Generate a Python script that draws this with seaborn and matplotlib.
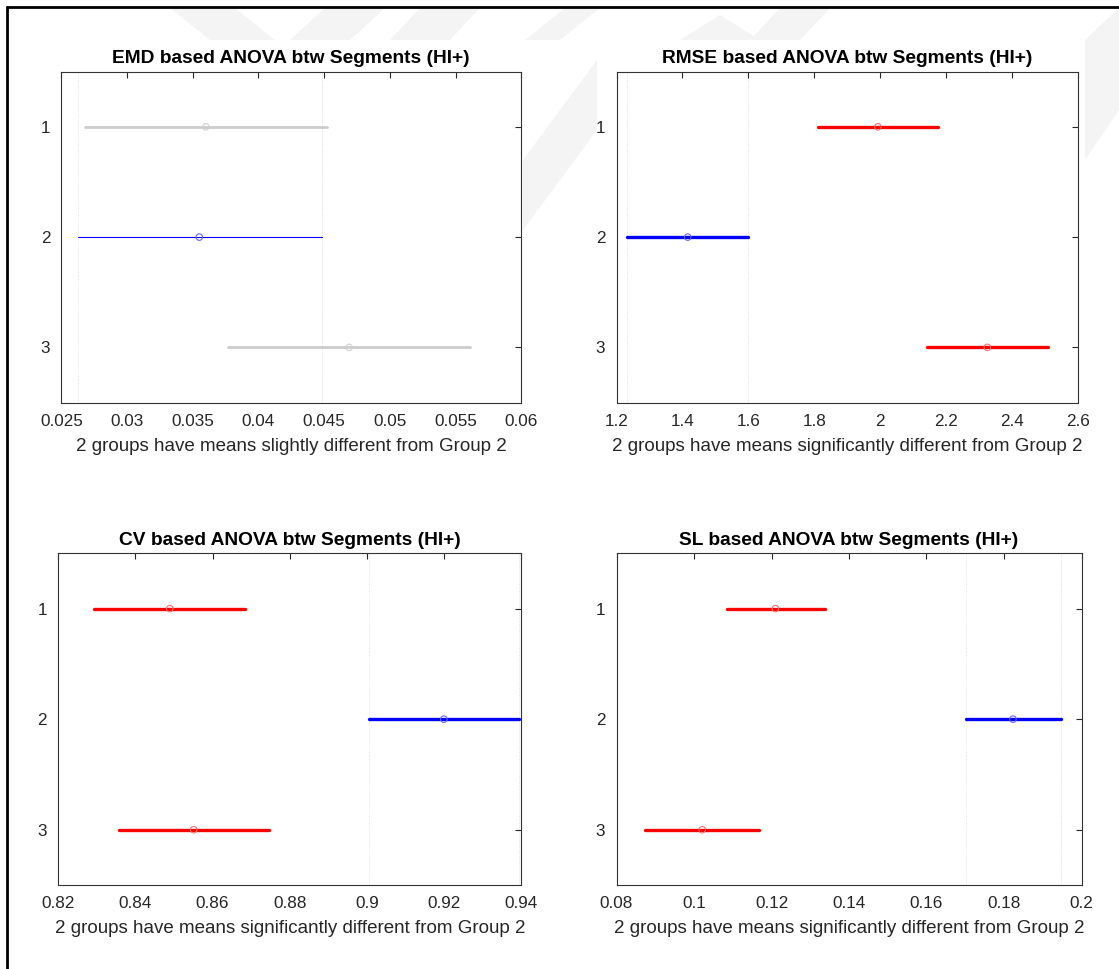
import seaborn as sns
import matplotlib.pyplot as plt
from matplotlib.patches import Polygon
from matplotlib.lines import Line2D

# Multiple comparison results (group intervals + means).
groups = [1, 2, 3]

emd_lo = [0.0268, 0.0263, 0.0377]
emd_mean = [0.0360, 0.0355, 0.0469]
emd_hi = [0.0452, 0.0448, 0.0561]

rmse_lo = [1.811, 1.232, 2.143]
rmse_mean = [1.993, 1.416, 2.325]
rmse_hi = [2.175, 1.600, 2.508]

cv_lo = [0.8294, 0.9005, 0.8357]
cv_mean = [0.8489, 0.9199, 0.8551]
cv_hi = [0.8683, 0.9393, 0.8745]

sl_lo = [0.1084, 0.1701, 0.0874]
sl_mean = [0.1210, 0.1823, 0.1021]
sl_hi = [0.1339, 0.1946, 0.1168]

emd_colors = ["#cccccc", "#0000ff", "#cccccc"]
sig_colors = ["#ff0000", "#0000ff", "#ff0000"]

xlims = {
    "EMD": (0.025, 0.06),
    "RMSE": (1.2, 2.6),
    "CV": (0.82, 0.94),
    "SL": (0.08, 0.2),
}
xticks = {
    "EMD": [0.025, 0.03, 0.035, 0.04, 0.045, 0.05, 0.055, 0.06],
    "RMSE": [1.2, 1.4, 1.6, 1.8, 2.0, 2.2, 2.4, 2.6],
    "CV": [0.82, 0.84, 0.86, 0.88, 0.9, 0.92, 0.94],
    "SL": [0.08, 0.1, 0.12, 0.14, 0.16, 0.18, 0.2],
}
xticklabels = {
    "EMD": ["0.025", "0.03", "0.035", "0.04", "0.045", "0.05", "0.055", "0.06"],
    "RMSE": ["1.2", "1.4", "1.6", "1.8", "2", "2.2", "2.4", "2.6"],
    "CV": ["0.82", "0.84", "0.86", "0.88", "0.9", "0.92", "0.94"],
    "SL": ["0.08", "0.1", "0.12", "0.14", "0.16", "0.18", "0.2"],
}
xlabels = {
    "EMD": "2 groups have means slightly different from Group 2",
    "RMSE": "2 groups have means significantly different from Group 2",
    "CV": "2 groups have means significantly different from Group 2",
    "SL": "2 groups have means significantly different from Group 2",
}

sns.set_theme(style="white")
plt.rcParams["font.family"] = ["Liberation Sans", "DejaVu Sans"]

W, H = 1119, 969
fig = plt.figure(figsize=(W / 100, H / 100), dpi=100)
fig.patch.set_facecolor("white")

# faint background watermark (pixel coords, y from top)
def px_poly(pts, **kw):
    p = Polygon([(x / W, 1 - y / H) for x, y in pts], closed=True,
                transform=fig.transFigure, zorder=-5, **kw)
    fig.patches.append(p)

wm = dict(facecolor="#f4f4f4", edgecolor="none")
px_poly([(170, 8), (235, 8), (275, 40), (210, 40)], **wm)
px_poly([(290, 40), (350, 40), (385, 8), (325, 8)], **wm)
px_poly([(420, 8), (480, 8), (450, 40), (390, 40)], **wm)
px_poly([(525, 40), (560, 40), (600, 8), (565, 8)], **wm)
px_poly([(680, 40), (720, 15), (760, 40)], **wm)
px_poly([(780, 8), (830, 8), (800, 40), (750, 40)], **wm)
px_poly([(523, 230), (597, 130), (597, 60), (523, 160)], **wm)
px_poly([(1085, 40), (1119, 8), (1119, 110), (1085, 160)], **wm)

# border lines of the pasted figure
fig.add_artist(Line2D([7 / W, 1], [1 - 7 / H, 1 - 7 / H], color="black", lw=2, transform=fig.transFigure))
fig.add_artist(Line2D([7 / W, 7 / W], [0, 1 - 7 / H], color="black", lw=2, transform=fig.transFigure))

positions = {
    "EMD": [61.3 / W, 1 - 402.5 / H, 460.0 / W, 330.8 / H],
    "RMSE": [616.5 / W, 1 - 402.5 / H, 461.5 / W, 330.8 / H],
    "CV": [58.2 / W, 1 - 885 / H, 463.2 / W, 331.7 / H],
    "SL": [616.5 / W, 1 - 885 / H, 465.0 / W, 331.7 / H],
}

panels = [
    ("EMD", emd_lo, emd_mean, emd_hi, emd_colors, [2.0, 0.8, 2.0]),
    ("RMSE", rmse_lo, rmse_mean, rmse_hi, sig_colors, [2.4, 2.4, 2.4]),
    ("CV", cv_lo, cv_mean, cv_hi, sig_colors, [2.4, 2.4, 2.4]),
    ("SL", sl_lo, sl_mean, sl_hi, sig_colors, [2.4, 2.4, 2.4]),
]

marker_colors = {"#cccccc": "#d0d0d0", "#0000ff": "#6666ff", "#ff0000": "#ff7070"}

for name, lo, mean, hi, colors, lws in panels:
    ax = fig.add_axes(positions[name])
    ax.set_facecolor("white")
    # dotted lines at the comparison group's interval limits
    ax.axvline(lo[1], color="#d9d9d9", lw=0.6, ls=":", zorder=0)
    ax.axvline(hi[1], color="#d9d9d9", lw=0.6, ls=":", zorder=0)
    for g, l, m, h, c, lw in zip(groups, lo, mean, hi, colors, lws):
        sns.lineplot(x=[l, h], y=[g, g], color=c, lw=lw, ax=ax, estimator=None, sort=False)
        sns.scatterplot(x=[m], y=[g], marker="o", s=22, facecolor="none",
                        edgecolor=marker_colors[c], linewidth=0.8, ax=ax, zorder=3)
    ax.set_xlim(*xlims[name])
    ax.set_ylim(3.5, 0.5)
    ax.set_yticks(groups)
    ax.set_yticklabels([str(g) for g in groups])
    ax.set_xticks(xticks[name])
    ax.set_xticklabels(xticklabels[name])
    ax.tick_params(direction="in", length=4.5, width=0.8, color="#262626",
                   top=True, right=True, labelsize=12.3, labelcolor="#262626", pad=8)
    for s in ax.spines.values():
        s.set_color("#333333")
        s.set_linewidth(0.8)
    ax.set_xlabel(xlabels[name], fontsize=13.5, color="#262626", labelpad=6.5)
    ax.set_ylabel("")
    ax.set_title(f"{name} based ANOVA btw Segments (HI+)", fontsize=13.8,
                 fontweight="bold", color="black", pad=6)

fig.savefig("out.png", dpi=100, facecolor="white")
